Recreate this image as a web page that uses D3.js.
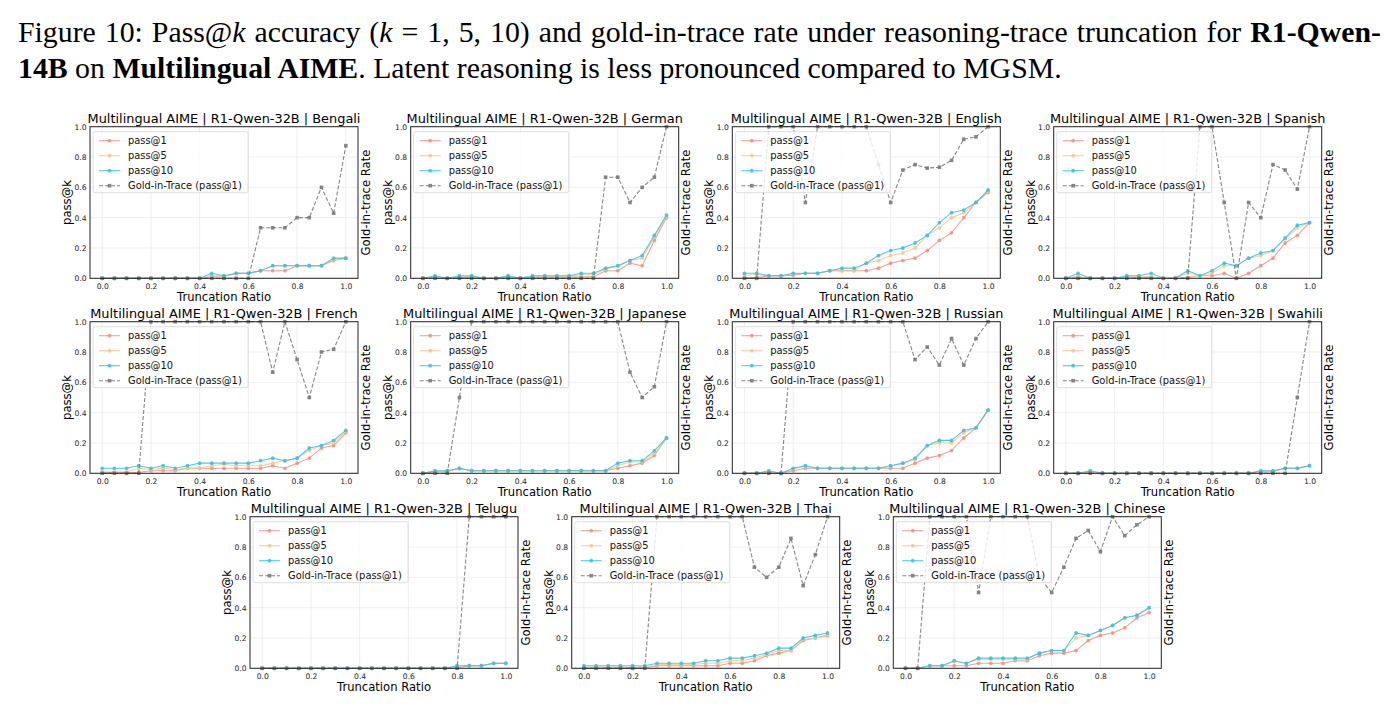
<!DOCTYPE html>
<html>
<head>
<meta charset="utf-8">
<script src="https://d3js.org/d3.v7.min.js"></script>
<style>
body{margin:0;background:#fff;}
svg{display:block;}
</style>
</head>
<body>
<svg id="fig" width="1399" height="714"></svg>
<script>
// truncation ratios 0.0 .. 1.0
var ratios = [0,0.05,0.1,0.15,0.2,0.25,0.3,0.35,0.4,0.45,0.5,0.55,0.6,0.65,0.7,0.75,0.8,0.85,0.9,0.95,1.0];
var xTicks = [0,0.2,0.4,0.6,0.8,1.0];
var yTicks = [0,0.2,0.4,0.6,0.8,1.0];
var languages = ["Bengali","German","English","Spanish","French","Japanese","Russian","Swahili","Telugu","Thai","Chinese"];
var seriesNames = ["pass@1","pass@5","pass@10","Gold-in-Trace (pass@1)"];

var bengali_p1  = [0,0,0,0,0,0,0,0,0,0.01,0.01,0.033,0.033,0.05,0.05,0.05,0.083,0.083,0.083,0.117,0.133];
var bengali_p5  = [0,0,0,0,0,0,0,0,0,0.02,0.013,0.033,0.033,0.05,0.083,0.083,0.083,0.083,0.083,0.125,0.133];
var bengali_p10 = [0,0,0,0,0,0,0,0,0,0.033,0.017,0.033,0.033,0.05,0.083,0.083,0.083,0.083,0.083,0.133,0.133];
var bengali_gold= [0,0,0,0,0,0,0,0,0,0,0,0,0,0.333,0.333,0.333,0.4,0.4,0.6,0.429,0.875];

var german_p1  = [0,0.005,0,0.005,0.005,0,0,0.005,0,0.005,0.007,0.007,0.008,0.01,0.01,0.05,0.05,0.1,0.083,0.25,0.4];
var german_p5  = [0,0.012,0,0.012,0.012,0,0,0.012,0,0.012,0.013,0.013,0.013,0.025,0.025,0.06,0.08,0.117,0.133,0.27,0.41];
var german_p10 = [0,0.017,0,0.017,0.017,0,0,0.017,0,0.017,0.017,0.017,0.017,0.033,0.033,0.067,0.083,0.117,0.15,0.283,0.417];
var german_gold= [0,0,0,0,0,0,0,0,0,0,0,0,0,0,0,0.667,0.667,0.5,0.6,0.667,1.0];

var english_p1  = [0.005,0.005,0.015,0.015,0.02,0.033,0.033,0.05,0.05,0.05,0.05,0.067,0.1,0.117,0.133,0.183,0.25,0.3,0.4,0.5,0.567];
var english_p5  = [0.02,0.025,0.017,0.017,0.03,0.033,0.033,0.05,0.05,0.05,0.1,0.117,0.15,0.167,0.2,0.283,0.333,0.4,0.433,0.5,0.575];
var english_p10 = [0.033,0.033,0.017,0.017,0.033,0.033,0.033,0.05,0.067,0.067,0.1,0.15,0.183,0.2,0.233,0.283,0.367,0.433,0.45,0.5,0.583];
var english_gold= [0,0,1,1,1,0.5,1,1,1,1,1,0.75,0.5,0.714,0.75,0.727,0.733,0.778,0.917,0.933,1.0];

var spanish_p1  = [0,0.005,0,0,0,0.005,0.005,0.005,0,0,0.005,0.017,0.017,0.033,0,0.033,0.083,0.133,0.233,0.283,0.367];
var spanish_p5  = [0,0.015,0,0,0,0.01,0.012,0.01,0,0,0.035,0.017,0.033,0.083,0.083,0.133,0.15,0.183,0.26,0.333,0.367];
var spanish_p10 = [0,0.033,0,0,0,0.017,0.017,0.033,0,0,0.05,0.017,0.05,0.1,0.083,0.133,0.167,0.183,0.267,0.35,0.367];
var spanish_gold= [0,0,0,0,0,0,0,0,0,0,0,1,1,0.5,0,0.5,0.4,0.75,0.714,0.588,1.0];

var french_p1  = [0.005,0.005,0.005,0.005,0.017,0.017,0.017,0.033,0.033,0.033,0.033,0.033,0.033,0.033,0.05,0.033,0.067,0.1,0.167,0.183,0.267];
var french_p5  = [0.01,0.01,0.01,0.033,0.025,0.033,0.025,0.033,0.033,0.05,0.06,0.05,0.05,0.05,0.067,0.083,0.1,0.15,0.183,0.2,0.275];
var french_p10 = [0.033,0.033,0.033,0.05,0.033,0.05,0.033,0.05,0.067,0.067,0.067,0.067,0.067,0.083,0.1,0.083,0.1,0.167,0.183,0.217,0.283];
var french_gold= [0,0,0,0,1,1,1,1,1,1,1,1,1,1,0.667,1,0.75,0.5,0.8,0.818,1.0];

var japanese_p1  = [0,0.01,0.012,0.033,0.017,0.017,0.017,0.017,0.017,0.017,0.017,0.017,0.017,0.017,0.017,0.017,0.033,0.05,0.067,0.117,0.233];
var japanese_p5  = [0,0.015,0.015,0.03,0.017,0.017,0.017,0.017,0.017,0.017,0.017,0.017,0.017,0.017,0.017,0.017,0.05,0.075,0.075,0.133,0.23];
var japanese_p10 = [0,0.017,0.017,0.033,0.017,0.017,0.017,0.017,0.017,0.017,0.017,0.017,0.017,0.017,0.017,0.017,0.067,0.083,0.083,0.15,0.233];
var japanese_gold= [0,0,0,0.5,1,1,1,1,1,1,1,1,1,1,1,1,1,0.667,0.5,0.571,1.0];

var russian_p1  = [0,0,0.005,0,0.017,0.033,0.033,0.033,0.033,0.033,0.033,0.033,0.033,0.033,0.067,0.1,0.117,0.15,0.233,0.3,0.417];
var russian_p5  = [0,0,0.01,0,0.03,0.045,0.033,0.033,0.033,0.033,0.033,0.033,0.045,0.067,0.09,0.183,0.2,0.2,0.267,0.3,0.417];
var russian_p10 = [0,0,0.017,0,0.033,0.05,0.033,0.033,0.033,0.033,0.033,0.033,0.05,0.067,0.1,0.183,0.217,0.217,0.283,0.3,0.417];
var russian_gold= [0,0,0,0,1,1,1,1,1,1,1,1,1,1,0.75,0.833,0.714,0.889,0.714,0.889,1.0];

var swahili_p1  = [0,0,0.005,0,0,0,0,0,0,0,0,0,0,0,0,0,0.01,0.01,0.033,0.033,0.05];
var swahili_p5  = [0,0,0.012,0,0,0,0,0,0,0,0,0,0,0,0,0,0.015,0.015,0.033,0.033,0.05];
var swahili_p10 = [0,0,0.017,0,0,0,0,0,0,0,0,0,0,0,0,0,0.017,0.017,0.033,0.033,0.05];
var swahili_gold= [0,0,0,0,0,0,0,0,0,0,0,0,0,0,0,0,0,0,0,0.5,1.0];

var telugu_p1  = [0,0,0,0,0,0,0,0,0,0,0,0,0,0,0,0,0.003,0.017,0.017,0.033,0.033];
var telugu_p5  = [0,0,0,0,0,0,0,0,0,0,0,0,0,0,0,0,0.015,0.017,0.017,0.033,0.033];
var telugu_p10 = [0,0,0,0,0,0,0,0,0,0,0,0,0,0,0,0,0.017,0.017,0.017,0.033,0.033];
var telugu_gold= [0,0,0,0,0,0,0,0,0,0,0,0,0,0,0,0,0,1,1,1,1];

var thai_p1  = [0.003,0.003,0.003,0.003,0.003,0.003,0.017,0.017,0.017,0.017,0.017,0.017,0.033,0.033,0.05,0.083,0.1,0.117,0.183,0.2,0.217];
var thai_p5  = [0.008,0.008,0.008,0.008,0.008,0.008,0.025,0.025,0.025,0.025,0.033,0.033,0.05,0.05,0.067,0.09,0.117,0.12,0.19,0.2,0.22];
var thai_p10 = [0.017,0.017,0.017,0.017,0.017,0.017,0.033,0.033,0.033,0.033,0.05,0.05,0.067,0.067,0.083,0.1,0.133,0.133,0.2,0.217,0.233];
var thai_gold= [0,0,0,0,0,0,1,1,1,1,1,1,1,1,0.667,0.6,0.667,0.857,0.545,0.75,1.0];

var chinese_p1  = [0,0,0.017,0.017,0.017,0.017,0.033,0.033,0.033,0.05,0.05,0.083,0.1,0.1,0.117,0.183,0.217,0.233,0.267,0.333,0.367];
var chinese_p5  = [0,0,0.017,0.017,0.045,0.033,0.06,0.06,0.06,0.06,0.06,0.1,0.117,0.117,0.2,0.217,0.25,0.283,0.333,0.35,0.4];
var chinese_p10 = [0,0,0.017,0.017,0.05,0.033,0.067,0.067,0.067,0.067,0.067,0.1,0.117,0.117,0.233,0.217,0.25,0.283,0.333,0.35,0.4];
var chinese_gold= [0,0,1,1,1,1,0.5,1,1,1,1,0.6,0.5,0.667,0.857,0.909,0.769,1,0.875,0.947,1.0];

// lookup built from the arrays above
var panel_data = {
	"Bengali":[bengali_p1,bengali_p5,bengali_p10,bengali_gold],
	"German":[german_p1,german_p5,german_p10,german_gold],
	"English":[english_p1,english_p5,english_p10,english_gold],
	"Spanish":[spanish_p1,spanish_p5,spanish_p10,spanish_gold],
	"French":[french_p1,french_p5,french_p10,french_gold],
	"Japanese":[japanese_p1,japanese_p5,japanese_p10,japanese_gold],
	"Russian":[russian_p1,russian_p5,russian_p10,russian_gold],
	"Swahili":[swahili_p1,swahili_p5,swahili_p10,swahili_gold],
	"Telugu":[telugu_p1,telugu_p5,telugu_p10,telugu_gold],
	"Thai":[thai_p1,thai_p5,thai_p10,thai_gold],
	"Chinese":[chinese_p1,chinese_p5,chinese_p10,chinese_gold]
};

// plot-area origins of each panel
var panel_pos = [
	[90,126.7],[410.7,126.7],[732.3,126.7],[1053.7,126.7],
	[90,321.7],[410.7,321.7],[732.3,321.7],[1053.7,321.7],
	[250,516.7],[571.7,516.7],[893.3,516.7]
];
var pw = 268, ph = 151.6;
var FONT = "'DejaVu Sans', sans-serif";

var styles = [
	{"color":"#f58a7c","op":0.8,"dash":null,"mark":"circle"},
	{"color":"#ffc27f","op":0.8,"dash":null,"mark":"circle"},
	{"color":"#2ec4e6","op":0.85,"dash":null,"mark":"circle"},
	{"color":"#7a7a7a","op":0.9,"dash":"4,2","mark":"square"}
];

var svg = d3.select("#fig");

// caption
var cap = svg.append("g").attr("font-family","'Liberation Serif','Times New Roman',serif").attr("font-size",29.8).attr("fill","#000");
var line1 = cap.append("text").attr("x",18).attr("y",42);
line1.append("tspan").text("Figure 10: Pass@");
line1.append("tspan").attr("font-style","italic").text("k");
line1.append("tspan").text(" accuracy (");
line1.append("tspan").attr("font-style","italic").text("k");
line1.append("tspan").text(" = 1, 5, 10) and gold-in-trace rate under reasoning-trace truncation for ");
line1.append("tspan").attr("font-weight","bold").text("R1-Qwen-");
var line2 = cap.append("text").attr("x",18).attr("y",78);
line2.append("tspan").attr("font-weight","bold").text("14B");
line2.append("tspan").text(" on ");
line2.append("tspan").attr("font-weight","bold").text("Multilingual AIME");
line2.append("tspan").text(". Latent reasoning is less pronounced compared to MGSM.");
// justify first line
(function(){
	var nat = line1.node().getComputedTextLength();
	var nsp = (line1.text().match(/ /g)||[]).length;
	var extra = (1381-18-nat)/nsp;
	line1.style("word-spacing", extra+"px");
})();

var drawPanel = function(idx, lang){
	var pos = panel_pos[idx];
	var g = svg.append("g").attr("transform","translate("+pos[0]+","+pos[1]+")");
	var x = d3.scaleLinear().domain([-0.05,1.05]).range([0,pw]);
	var y = d3.scaleLinear().domain([0,1]).range([ph,0]);

	// grid
	g.append("g").selectAll("line").data(xTicks).join("line")
		.attr("x1",d=>x(d)).attr("x2",d=>x(d)).attr("y1",0).attr("y2",ph)
		.attr("stroke","#ebebeb").attr("stroke-width",0.8);
	g.append("g").selectAll("line").data(yTicks).join("line")
		.attr("x1",0).attr("x2",pw).attr("y1",d=>y(d)).attr("y2",d=>y(d))
		.attr("stroke","#ebebeb").attr("stroke-width",0.8);

	// axes
	var xa = g.append("g").attr("transform","translate(0,"+ph+")")
		.call(d3.axisBottom(x).tickValues(xTicks).tickSize(0).tickPadding(5.5).tickFormat(d3.format(".1f")));
	var ya = g.append("g")
		.call(d3.axisLeft(y).tickValues(yTicks).tickSize(0).tickPadding(3.5).tickFormat(d3.format(".1f")));
	[xa,ya].forEach(function(a){
		a.select(".domain").remove();
		a.selectAll("text").attr("font-family",FONT).attr("font-size",7.6).attr("fill","#222");
	});

	// series
	var data = panel_data[lang];
	data.forEach(function(vals, si){
		var st = styles[si];
		var pts = ratios.map((r,i)=>[r, vals[i]]);
		var line = d3.line().x(d=>x(d[0])).y(d=>y(d[1]));
		g.append("path").datum(pts).attr("d",line)
			.attr("fill","none").attr("stroke",st.color).attr("stroke-width",1.1)
			.attr("stroke-opacity",st.op).attr("stroke-dasharray",st.dash);
		if(st.mark=="circle"){
			g.append("g").selectAll("circle").data(pts).join("circle")
				.attr("cx",d=>x(d[0])).attr("cy",d=>y(d[1])).attr("r",1.9)
				.attr("fill",st.color).attr("fill-opacity",st.op);
		}else{
			g.append("g").selectAll("rect").data(pts).join("rect")
				.attr("x",d=>x(d[0])-1.8).attr("y",d=>y(d[1])-1.8).attr("width",3.6).attr("height",3.6)
				.attr("fill",st.color).attr("fill-opacity",st.op);
		};
	});

	// frame
	g.append("rect").attr("width",pw).attr("height",ph).attr("fill","none").attr("stroke","#222").attr("stroke-width",1);

	// legend
	var lg = g.append("g").attr("transform","translate(3,5)");
	lg.append("rect").attr("width",155).attr("height",61).attr("rx",2)
		.attr("fill","#fff").attr("fill-opacity",0.8).attr("stroke","#d6d6d6").attr("stroke-width",0.8);
	seriesNames.forEach(function(name, si){
		var st = styles[si];
		var ly = 9 + si*15;
		lg.append("line").attr("x1",6).attr("x2",27).attr("y1",ly).attr("y2",ly)
			.attr("stroke",st.color).attr("stroke-width",1.1).attr("stroke-opacity",st.op).attr("stroke-dasharray",st.dash);
		if(st.mark=="circle"){
			lg.append("circle").attr("cx",16.5).attr("cy",ly).attr("r",1.9).attr("fill",st.color).attr("fill-opacity",st.op);
		}else{
			lg.append("rect").attr("x",14.7).attr("y",ly-1.8).attr("width",3.6).attr("height",3.6).attr("fill",st.color).attr("fill-opacity",st.op);
		};
		lg.append("text").attr("x",35).attr("y",ly+3.6).attr("font-family",FONT).attr("font-size",9.9).attr("fill","#111").text(name);
	});

	// labels
	g.append("text").attr("x",pw/2).attr("y",-4).attr("text-anchor","middle")
		.attr("font-family",FONT).attr("font-size",12.9).attr("fill","#000")
		.text("Multilingual AIME | R1-Qwen-32B | "+lang);
	g.append("text").attr("x",pw/2).attr("y",ph+23).attr("text-anchor","middle")
		.attr("font-family",FONT).attr("font-size",11.6).attr("fill","#000").text("Truncation Ratio");
	g.append("text").attr("transform","translate(-19,"+(ph/2)+") rotate(-90)").attr("text-anchor","middle")
		.attr("font-family",FONT).attr("font-size",11.6).attr("fill","#000").text("pass@k");
	g.append("text").attr("transform","translate("+(pw+11.5)+","+(ph/2)+") rotate(-90)").attr("text-anchor","middle")
		.attr("font-family",FONT).attr("font-size",11.6).attr("fill","#000").text("Gold-in-trace Rate");
};

languages.forEach(function(lang, i){
	drawPanel(i, lang);
});
</script>
</body>
</html>
